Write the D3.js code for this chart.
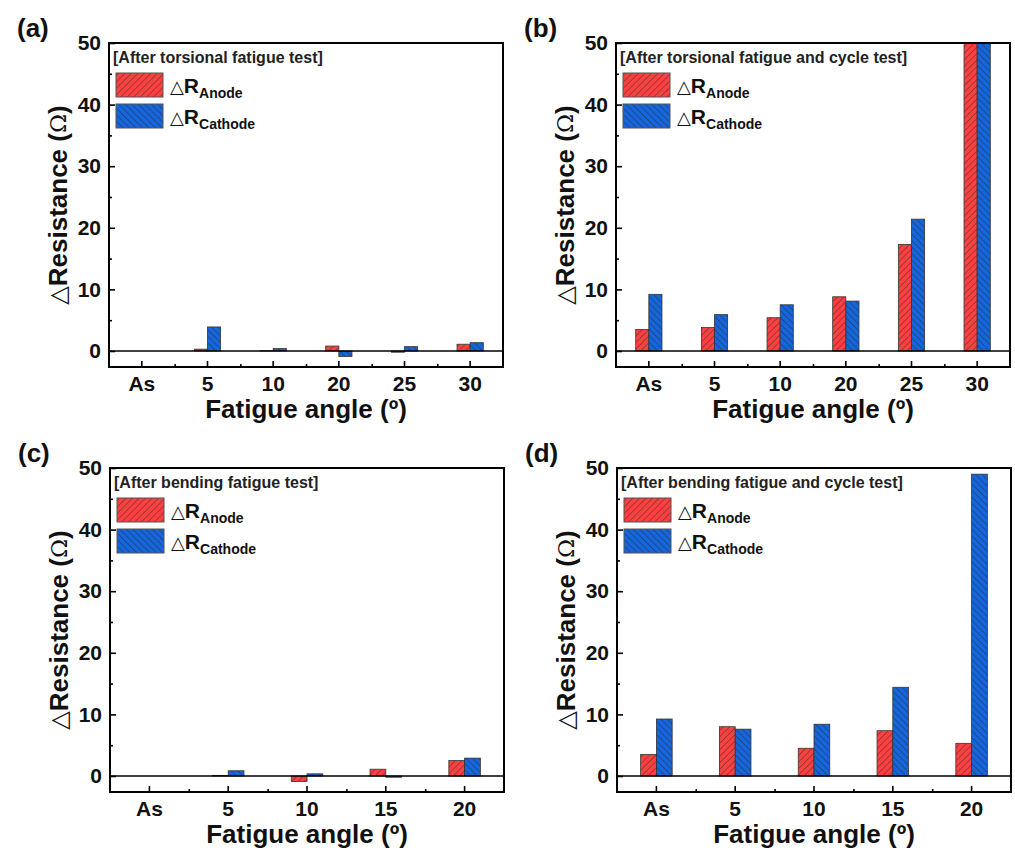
<!DOCTYPE html>
<html>
<head>
<meta charset="utf-8">
<script src="https://cdn.jsdelivr.net/npm/d3@7"></script>
<style>
  body { margin: 0; background: #fff; }
  svg { display: block; font-family: "Liberation Sans", Arial, sans-serif; }
</style>
</head>
<body>
<svg id="fig" width="1015" height="853"></svg>
<script>
// categories
const torsionAngles = ['As', '5', '10', '20', '25', '30'];
const bendingAngles = ['As', '5', '10', '15', '20'];

// panel (a) torsional fatigue
const aAnode   = [0, 0.3, 0.05, 0.8, -0.2, 1.1];
const aCathode = [0, 3.9, 0.4, -0.9, 0.7, 1.35];
// panel (b) torsional fatigue + cycle
const bAnode   = [3.5, 3.8, 5.4, 8.8, 17.3, 50];
const bCathode = [9.2, 5.9, 7.5, 8.1, 21.4, 50];
// panel (c) bending fatigue
const cAnode   = [0, 0.1, -0.9, 1.1, 2.5];
const cCathode = [0, 0.85, 0.35, -0.2, 2.9];
// panel (d) bending fatigue + cycle
const dAnode   = [3.5, 8.0, 4.5, 7.35, 5.3];
const dCathode = [9.25, 7.6, 8.4, 14.4, 49.0];

const yMajor = [0, 10, 20, 30, 40, 50];
const yMinor = [5, 15, 25, 35, 45];

const panels = [
  { tag: '(a)', title: '[After torsional fatigue test]', cats: torsionAngles, anode: aAnode, cathode: aCathode, left: 109, top: 43 },
  { tag: '(b)', title: '[After torsional fatigue and cycle test]', cats: torsionAngles, anode: bAnode, cathode: bCathode, left: 616, top: 43 },
  { tag: '(c)', title: '[After bending fatigue test]', cats: bendingAngles, anode: cAnode, cathode: cCathode, left: 110, top: 468 },
  { tag: '(d)', title: '[After bending fatigue and cycle test]', cats: bendingAngles, anode: dAnode, cathode: dCathode, left: 617, top: 468 }
];

const W = 394, H = 324;
const RED = '#ff4040', BLUE = '#1565dc', HATCH = '#2a2a2a';

const svg = d3.select('#fig');
const defs = svg.append('defs');

function hatch(id, color, angle) {
  const p = defs.append('pattern')
    .attr('id', id)
    .attr('patternUnits', 'userSpaceOnUse')
    .attr('width', 4.6).attr('height', 4.6)
    .attr('patternTransform', `rotate(${angle})`);
  p.append('rect').attr('width', 4.6).attr('height', 4.6).attr('fill', color);
  p.append('line').attr('x1', 0).attr('y1', 0).attr('x2', 0).attr('y2', 4.6)
    .attr('stroke', HATCH).attr('stroke-width', 0.9);
}
hatch('hRed', RED, 45);
hatch('hBlue', BLUE, -45);

panels.forEach((p, i) => {
  const g = svg.append('g').attr('transform', `translate(${p.left},${p.top})`);

  const x = d3.scaleBand().domain(p.cats).range([0, W]).padding(0);
  const xEdge = d3.scaleLinear().domain([0, p.cats.length]).range([0, W]);
  const y = d3.scaleLinear().domain([-2.6, 50]).range([H, 0]);
  const bw = x.bandwidth() * 0.2;

  // clip
  defs.append('clipPath').attr('id', 'clip' + i)
    .append('rect').attr('width', W).attr('height', H);

  const bars = g.append('g').attr('clip-path', `url(#clip${i})`);
  [[p.anode, 'url(#hRed)', -1], [p.cathode, 'url(#hBlue)', 0]].forEach(([vals, fill, off]) => {
    bars.selectAll(null)
      .data(vals.map((v, k) => ({ v, c: p.cats[k] })))
      .enter().append('rect')
      .attr('x', d => x(d.c) + x.bandwidth() / 2 + off * bw)
      .attr('y', d => Math.min(y(d.v), y(0)))
      .attr('width', bw)
      .attr('height', d => Math.abs(y(d.v) - y(0)))
      .attr('fill', fill)
      .attr('stroke', '#333')
      .attr('stroke-width', 0.8);
  });

  // zero line
  g.append('line')
    .attr('x1', 0).attr('x2', W)
    .attr('y1', y(0)).attr('y2', y(0))
    .attr('stroke', '#000').attr('stroke-width', 1.6);

  // y axis
  g.append('g')
    .call(d3.axisLeft(y).tickValues(yMajor).tickSize(-6).tickPadding(8));
  g.append('g')
    .call(d3.axisLeft(y).tickValues(yMinor).tickSize(-3).tickFormat(''));

  // x axis
  g.append('g').attr('transform', `translate(0,${H})`)
    .call(d3.axisBottom(x).tickSize(-6).tickPadding(9));
  g.append('g').attr('transform', `translate(0,${H})`)
    .call(d3.axisBottom(xEdge).tickValues(d3.range(1, p.cats.length)).tickSize(-3).tickFormat(''));

  g.selectAll('.domain').remove();
  g.selectAll('.tick line').attr('stroke', '#000').attr('stroke-width', 1.6);
  g.selectAll('.tick text')
    .attr('font-family', '"Liberation Sans", Arial, sans-serif')
    .attr('font-size', 21).attr('font-weight', 'bold').attr('fill', '#111');

  // frame
  g.append('rect').attr('width', W).attr('height', H)
    .attr('fill', 'none').attr('stroke', '#000').attr('stroke-width', 2);

  // axis titles
  const yl = g.append('text')
    .attr('transform', `translate(-51,${H / 2}) rotate(-90)`)
    .attr('text-anchor', 'middle').attr('dominant-baseline', 'central')
    .attr('font-size', 26).attr('font-weight', 'bold').attr('fill', '#111');
  yl.append('tspan').attr('font-weight', 'normal').attr('font-family', 'DejaVu Sans').attr('font-size', 24).text('△');
  yl.append('tspan').text('Resistance (');
  yl.append('tspan').attr('font-weight', 'normal').attr('font-family', '"DejaVu Serif"').attr('font-size', 23).text('Ω');
  yl.append('tspan').text(')');

  g.append('text')
    .attr('x', W / 2).attr('y', H + 51)
    .attr('text-anchor', 'middle')
    .attr('font-size', 26).attr('font-weight', 'bold').attr('fill', '#111')
    .text('Fatigue angle (º)');

  // panel tag
  svg.append('text')
    .attr('x', p.left - 92).attr('y', p.top - 6)
    .attr('font-size', 26).attr('font-weight', 'bold').attr('fill', '#111')
    .text(p.tag);

  // legend
  g.append('text')
    .attr('x', 4).attr('y', 20)
    .attr('font-size', 16).attr('font-weight', 'bold').attr('fill', '#222')
    .text(p.title);

  [['url(#hRed)', 'Anode', 30], ['url(#hBlue)', 'Cathode', 61]].forEach(([fill, sub, ty]) => {
    g.append('rect')
      .attr('x', 7).attr('y', ty).attr('width', 47).attr('height', 24)
      .attr('fill', fill).attr('stroke', '#555').attr('stroke-width', 1);
    const t = g.append('text')
      .attr('x', 61).attr('y', ty + 20)
      .attr('font-size', 21).attr('font-weight', 'bold').attr('fill', '#111');
    t.append('tspan').attr('font-weight', 'normal').attr('font-family', 'DejaVu Sans').attr('font-size', 18).text('△');
    t.append('tspan').text('R');
    t.append('tspan').attr('font-size', 14).attr('dy', 5).text(sub);
  });
});
</script>
</body>
</html>
